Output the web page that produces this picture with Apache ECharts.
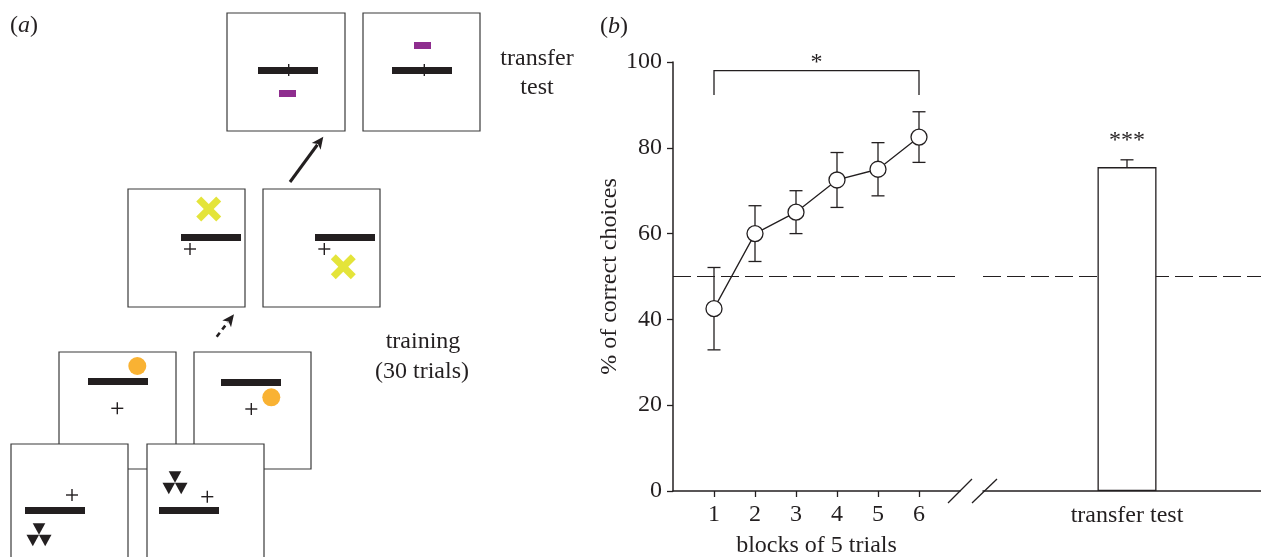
<!DOCTYPE html>
<html>
<head>
<meta charset="utf-8">
<script src="https://cdn.jsdelivr.net/npm/echarts@6/dist/echarts.min.js"></script>
<style>
  html, body { margin: 0; padding: 0; background: #fff; }
  #chart { width: 1261px; height: 557px; }
</style>
</head>
<body>
<div id="chart"></div>
<script>
// data
var blocks = [1, 2, 3, 4, 5, 6];
var blockMean = [42.5, 60, 65, 72.5, 75, 82.5];
var blockSem = [9.6, 6.5, 5, 6.4, 6.2, 5.9];
var transferCats = ['transfer test'];
var transferMean = [75.5];
var transferSem = [1.7];
var chance = 50;
var yTicks = [0, 20, 40, 60, 80, 100];
var sigBlocks = [1, 6];   // bracket from block 1 to block 6
var sigLabel = '*';
var transferSig = '***';

var ink = '#231f20';
var serif = 'Liberation Serif';
var fs = 24;

var chart = echarts.init(document.getElementById('chart'));

// ---- panel (a): schematic drawn with graphic elements ----
function box(x, y, w, h) {
  return { type: 'rect', shape: { x: x, y: y, width: w, height: h },
    style: { fill: '#fff', stroke: '#3a3a3a', lineWidth: 1.2 } };
}
function bar(x, y) {
  return { type: 'rect', shape: { x: x, y: y, width: 60, height: 7 }, style: { fill: ink } };
}
function plus(cx, cy) {
  return { type: 'group', children: [
    { type: 'line', shape: { x1: cx - 6, y1: cy, x2: cx + 6, y2: cy }, style: { stroke: ink, lineWidth: 1.4 } },
    { type: 'line', shape: { x1: cx, y1: cy - 6, x2: cx, y2: cy + 6 }, style: { stroke: ink, lineWidth: 1.4 } }
  ] };
}
function purple(x, y) {
  return { type: 'rect', shape: { x: x, y: y, width: 17, height: 7 }, style: { fill: '#8e2d8e' } };
}
function cross(cx, cy) {
  var s = { stroke: '#e4e43a', lineWidth: 7 };
  return { type: 'group', children: [
    { type: 'line', shape: { x1: cx - 10, y1: cy - 10, x2: cx + 10, y2: cy + 10 }, style: s },
    { type: 'line', shape: { x1: cx - 10, y1: cy + 10, x2: cx + 10, y2: cy - 10 }, style: s }
  ] };
}
function dot(cx, cy) {
  return { type: 'circle', shape: { cx: cx, cy: cy, r: 9 }, style: { fill: '#f9b233' } };
}
function tri(cx, cy) {
  return { type: 'polygon', shape: { points: [[cx - 6.3, cy - 5.8], [cx + 6.3, cy - 5.8], [cx, cy + 5.8]] },
    style: { fill: ink } };
}
function triad(cx, cy) {
  return { type: 'group', children: [tri(cx, cy), tri(cx - 6.2, cy + 11.5), tri(cx + 6.2, cy + 11.5)] };
}
function arrow(x1, y1, x2, y2, dashed) {
  var dx = x2 - x1, dy = y2 - y1, len = Math.sqrt(dx * dx + dy * dy);
  var ux = dx / len, uy = dy / len, hl = 12, hw = 5.5;
  var bx = x2 - ux * hl, by = y2 - uy * hl;
  return { type: 'group', children: [
    { type: 'line', shape: { x1: x1, y1: y1, x2: bx + ux * 2, y2: by + uy * 2 },
      style: { stroke: ink, lineWidth: dashed ? 2.6 : 3, lineDash: dashed ? [5, 4] : null } },
    { type: 'polygon', shape: { points: [[x2, y2], [bx - uy * hw, by + ux * hw], [bx + ux * 3, by + uy * 3], [bx + uy * hw, by - ux * hw]] },
      style: { fill: ink } }
  ] };
}
function label(x, y, t) {
  return { type: 'text', x: x, y: y, style: { text: t, font: fs + 'px "' + serif + '"', fill: ink, align: 'center', verticalAlign: 'middle' } };
}
function panelTag(x, y, letter) {
  return { type: 'text', x: x, y: y, style: {
    text: '(' + '{i|' + letter + '})', font: fs + 'px "' + serif + '"', fill: ink, verticalAlign: 'middle',
    rich: { i: { fontStyle: 'italic', fontFamily: serif, fontSize: fs, fill: ink } } } };
}

var schematic = [
  panelTag(10, 26, 'a'),
  panelTag(600, 27, 'b'),
  // transfer test boxes
  box(227, 13, 118, 118), bar(258, 67), plus(288.7, 70), purple(279, 90),
  box(363, 13, 117, 118), bar(392, 67), plus(424.3, 70), purple(414, 42),
  label(537, 59, 'transfer'), label(537, 88, 'test'),
  arrow(290, 182, 323.3, 136.7, false),
  // training boxes with crosses
  box(128, 189, 117, 118), cross(208.7, 209), bar(181, 234), plus(190, 249),
  box(263, 189, 117, 118), bar(315, 234), plus(324.3, 249), cross(343.3, 266.7),
  arrow(216.7, 336.7, 234, 314.3, true),
  label(423, 342, 'training'), label(422, 372, '(30 trials)'),
  // training boxes with circles
  box(59, 352, 117, 117), dot(137.3, 366), bar(88, 378), plus(117.3, 408.3),
  box(194, 352, 117, 117), bar(221, 379), dot(271.3, 397.3), plus(251.3, 409),
  // training boxes with triangles
  box(11, 444, 117, 120), plus(72, 495), bar(25, 507), triad(39, 529),
  box(147, 444, 117, 120), triad(175, 477), plus(207.3, 496.7), bar(159, 507),
  // axis break marks
  { type: 'line', shape: { x1: 948, y1: 503, x2: 972, y2: 479 }, style: { stroke: ink, lineWidth: 1.3 } },
  { type: 'line', shape: { x1: 972, y1: 503, x2: 997, y2: 479 }, style: { stroke: ink, lineWidth: 1.3 } }
];

// ---- panel (b) renderers ----
function renderErr(params, api) {
  var x = api.value(0), m = api.value(1), e = api.value(2);
  var top = api.coord([x, m + e]);
  var bot = api.coord([x, m - e]);
  var st = { stroke: ink, lineWidth: 1.3 };
  return { type: 'group', children: [
    { type: 'line', shape: { x1: top[0], y1: top[1], x2: bot[0], y2: bot[1] }, style: st },
    { type: 'line', shape: { x1: top[0] - 6.5, y1: top[1], x2: top[0] + 6.5, y2: top[1] }, style: st },
    { type: 'line', shape: { x1: bot[0] - 6.5, y1: bot[1], x2: bot[0] + 6.5, y2: bot[1] }, style: st }
  ] };
}
function renderTransferErr(params, api) {
  var x = api.value(0), m = api.value(1), e = api.value(2);
  var top = api.coord([x, m + e]);
  var mid = api.coord([x, m]);
  var st = { stroke: ink, lineWidth: 1.3 };
  return { type: 'group', children: [
    { type: 'line', shape: { x1: top[0], y1: top[1], x2: mid[0], y2: mid[1] }, style: st },
    { type: 'line', shape: { x1: top[0] - 6.5, y1: top[1], x2: top[0] + 6.5, y2: top[1] }, style: st },
    { type: 'text', x: top[0], y: top[1] - 19, style: { text: transferSig, font: fs + 'px "' + serif + '"', fill: ink, align: 'center', verticalAlign: 'middle' } }
  ] };
}
function renderBracket(params, api) {
  var a = api.coord([api.value(0), 98]);
  var b = api.coord([api.value(1), 98]);
  var a2 = api.coord([api.value(0), 92.3]);
  var st = { stroke: ink, lineWidth: 1.3, fill: null };
  return { type: 'group', children: [
    { type: 'polyline', shape: { points: [[a[0], a2[1]], a, b, [b[0], a2[1]]] }, style: st },
    { type: 'text', x: (a[0] + b[0]) / 2, y: a[1] - 7.5, style: { text: sigLabel, font: fs + 'px "' + serif + '"', fill: ink, align: 'center', verticalAlign: 'middle' } }
  ] };
}

var axisText = { color: ink, fontFamily: serif, fontSize: fs };
var axisLn = { show: true, lineStyle: { color: ink, width: 1.5 } };
var dashLine = {
  silent: true, symbol: 'none', z: 1,
  label: { show: false },
  lineStyle: { type: [18, 6], color: ink, width: 1.2 },
  data: [{ yAxis: chance }]
};

var option = {
  animation: false,
  backgroundColor: '#fff',
  graphic: schematic,
  grid: [
    { left: 673, top: 62, width: 287, height: 429, outerBoundsMode: 'none', containLabel: false },
    { left: 983, top: 62, width: 288, height: 429, outerBoundsMode: 'none', containLabel: false }
  ],
  xAxis: [{
    type: 'value', gridIndex: 0, min: 0, max: 7,
    name: 'blocks of 5 trials', nameLocation: 'middle', nameGap: 43,
    nameTextStyle: axisText,
    axisLine: axisLn, splitLine: { show: false },
    axisTick: { length: 6, lineStyle: { color: ink, width: 1.3 }, customValues: blocks },
    axisLabel: Object.assign({ margin: 12, customValues: blocks }, axisText)
  }, {
    type: 'category', gridIndex: 1, data: transferCats,
    axisLine: axisLn, splitLine: { show: false },
    axisTick: { alignWithLabel: true, length: 6, lineStyle: { color: ink, width: 1.3 } },
    axisLabel: Object.assign({ margin: 13 }, axisText)
  }],
  yAxis: [{
    type: 'value', gridIndex: 0, min: yTicks[0], max: yTicks[yTicks.length - 1], interval: 20,
    name: '% of correct choices', nameLocation: 'middle', nameRotate: 90, nameGap: 46,
    nameTextStyle: axisText,
    axisLine: axisLn, splitLine: { show: false },
    axisTick: { show: true, length: 6, lineStyle: { color: ink, width: 1.3 } },
    axisLabel: Object.assign({ margin: 11 }, axisText)
  }, {
    type: 'value', gridIndex: 1, min: 0, max: 100, show: false
  }],
  series: [{
    type: 'line', xAxisIndex: 0, yAxisIndex: 0, z: 4,
    data: blocks.map(function (b, i) { return [b, blockMean[i]]; }),
    symbol: 'circle', symbolSize: 16,
    itemStyle: { color: '#fff', borderColor: ink, borderWidth: 1.3 },
    lineStyle: { color: ink, width: 1.3 },
    markLine: dashLine
  }, {
    type: 'custom', xAxisIndex: 0, yAxisIndex: 0, z: 3,
    data: blocks.map(function (b, i) { return [b, blockMean[i], blockSem[i]]; }),
    encode: { x: 0, y: 1 },
    renderItem: renderErr
  }, {
    type: 'custom', xAxisIndex: 0, yAxisIndex: 0, z: 3,
    data: [sigBlocks],
    encode: { x: [0, 1] },
    renderItem: renderBracket
  }, {
    type: 'bar', xAxisIndex: 1, yAxisIndex: 1, z: 6,
    data: transferMean, barWidth: 59,
    itemStyle: { color: '#fff', borderColor: ink, borderWidth: 1.3 },
    markLine: dashLine
  }, {
    type: 'custom', xAxisIndex: 1, yAxisIndex: 1, z: 7,
    data: transferMean.map(function (m, i) { return [i, m, transferSem[i]]; }),
    encode: { x: 0, y: 1 },
    renderItem: renderTransferErr
  }]
};
chart.setOption(option);
</script>
</body>
</html>
